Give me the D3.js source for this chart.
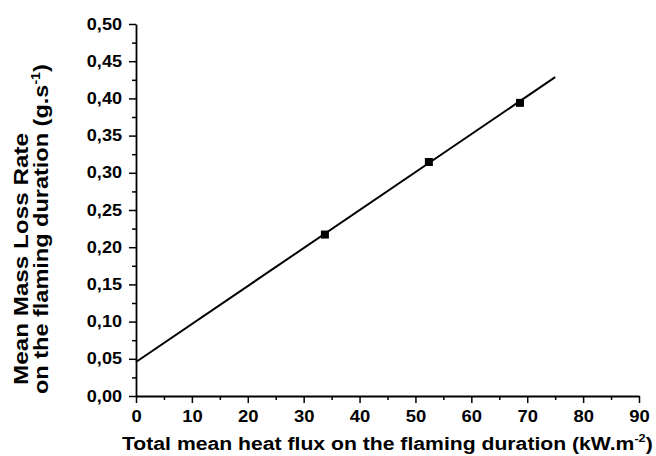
<!DOCTYPE html>
<html>
<head>
<meta charset="utf-8">
<script src="https://cdn.jsdelivr.net/npm/d3@7"></script>
<style>
  html, body { margin: 0; padding: 0; background: #fff; }
  svg { display: block; }
  text { font-family: "Liberation Sans", Arial, sans-serif; font-weight: bold; fill: #000; }
</style>
</head>
<body>
<svg id="chart" width="656" height="456"></svg>
<script>
// Data
const pointX = [33.8, 52.4, 68.7];
const pointY = [0.217, 0.3145, 0.394];
// Linear fit drawn from x=0 to x=75
const fitX = [0, 75];
const fitY = [0.0457, 0.4285];
const xTicks = [0, 10, 20, 30, 40, 50, 60, 70, 80, 90];
const yTicks = [0, 0.05, 0.10, 0.15, 0.20, 0.25, 0.30, 0.35, 0.40, 0.45, 0.50];
const xMinor = [5, 15, 25, 35, 45, 55, 65, 75, 85];
const yMinor = [0.025, 0.075, 0.125, 0.175, 0.225, 0.275, 0.325, 0.375, 0.425, 0.475];
const xTitle = "Total mean heat flux on the flaming duration (kW.m";
const xTitleSup = "-2";
const yTitle1 = "Mean Mass Loss Rate";
const yTitle2 = "on the flaming duration (g.s";
const yTitle2Sup = "-1";

const svg = d3.select("#chart");
const x = d3.scaleLinear().domain([0, 90]).range([136, 639]);
const y = d3.scaleLinear().domain([0, 0.5]).range([396, 24]);
const fmtY = v => d3.format(".2f")(v).replace(".", ",");
const FONT = "'Liberation Sans', Arial, sans-serif";

function stretchLabels(g, k) {
  g.selectAll("text").each(function () {
    const w = this.getComputedTextLength();
    d3.select(this).attr("textLength", w * k).attr("lengthAdjust", "spacingAndGlyphs");
  });
}

// Minor ticks
svg.append("g").attr("transform", "translate(0,396)")
  .call(d3.axisBottom(x).tickValues(xMinor).tickSize(4).tickFormat("").tickSizeOuter(0))
  .call(g => g.select(".domain").remove())
  .call(g => g.selectAll("line").attr("stroke-width", 1.5));
svg.append("g").attr("transform", "translate(136,0)")
  .call(d3.axisLeft(y).tickValues(yMinor).tickSize(4).tickFormat("").tickSizeOuter(0))
  .call(g => g.select(".domain").remove())
  .call(g => g.selectAll("line").attr("stroke-width", 1.5));

// Major axes
const gx = svg.append("g").attr("transform", "translate(0,396)")
  .call(d3.axisBottom(x).tickValues(xTicks).tickSize(7).tickSizeOuter(0).tickPadding(8).tickFormat(d3.format("d")));
gx.select(".domain").attr("stroke-width", 1.8);
gx.selectAll("line").attr("stroke-width", 1.5);
gx.selectAll("text").style("font-size", "16px").style("font-family", FONT).style("font-weight", "bold");
stretchLabels(gx, 1.15);

const gy = svg.append("g").attr("transform", "translate(136,0)")
  .call(d3.axisLeft(y).tickValues(yTicks).tickSize(7).tickSizeOuter(0).tickPadding(7).tickFormat(fmtY));
gy.select(".domain").attr("stroke-width", 1.8);
gy.selectAll("line").attr("stroke-width", 1.5);
gy.selectAll("text").style("font-size", "16px").style("font-family", FONT).style("font-weight", "bold");
stretchLabels(gy, 1.13);

// Fit line
const line = d3.line().x(d => x(d[0])).y(d => y(d[1]));
svg.append("path")
  .datum(fitX.map((v, i) => [v, fitY[i]]))
  .attr("d", line).attr("fill", "none").attr("stroke", "#000").attr("stroke-width", 2);

// Points
svg.append("g").selectAll("rect")
  .data(pointX.map((v, i) => [v, pointY[i]]))
  .join("rect")
  .attr("x", d => x(d[0]) - 4).attr("y", d => y(d[1]) - 4)
  .attr("width", 8).attr("height", 8).attr("fill", "#000");

// Title helper: draw text with optional superscript, then stretch along its direction to a target length
function title(main, sup, size, tx, ty, rot, target) {
  const g = svg.append("g");
  const t = g.append("text").attr("x", 0).attr("y", 0).style("font-size", size + "px");
  t.append("tspan").text(main);
  if (sup) {
    t.append("tspan").attr("dy", -size * 0.42).style("font-size", (size * 0.6) + "px").text(sup);
    t.append("tspan").attr("dy", size * 0.42).text(")");
  }
  const w = t.node().getBBox().width;
  g.attr("transform", `translate(${tx},${ty}) rotate(${rot}) scale(${target / w},1)`);
  return g;
}

// X title: spans x 122..653, baseline 450
title(xTitle, xTitleSup, 19, 122, 450, 0, 531);
// Y title line 1: from y=385 upward, baseline x=28
title(yTitle1, null, 20, 28, 385, -90, 252);
// Y title line 2: from y=394 upward, baseline x=48
title(yTitle2, yTitle2Sup, 20, 48, 394, -90, 330);
</script>
</body>
</html>
